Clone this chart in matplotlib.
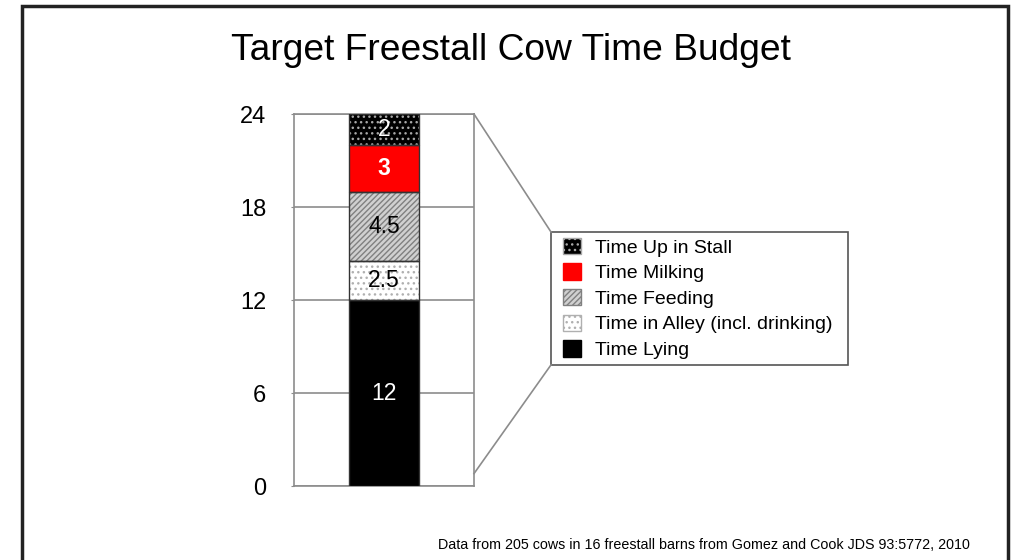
import numpy as np
import matplotlib.pyplot as plt
from matplotlib.patches import Patch, Rectangle
from matplotlib.lines import Line2D

plt.rcParams['font.family'] = ['Liberation Sans', 'DejaVu Sans']

# dados (horas por dia)
categorias = ['Time Lying', 'Time in Alley (incl. drinking)', 'Time Feeding',
              'Time Milking', 'Time Up in Stall']
horas = [12, 2.5, 4.5, 3, 2]
rotulos = ['12', '2.5', '4.5', '3', '2']
yticks = [0, 6, 12, 18, 24]

titulo = 'Target Freestall Cow Time Budget'
fonte = 'Data from 205 cows in 16 freestall barns from Gomez and Cook JDS 93:5772, 2010'

# estilos de cada segmento
cores = ['black', 'white', '#d0d0d0', '#ff0000', 'black']
hachuras = [None, '...', '//////', None, '...']
cor_hachura = ['black', '#b0b0b0', '#808080', '#ff0000', '#a8a8a8']
cor_texto = ['white', 'black', 'black', 'white', 'white']
peso_texto = ['normal', 'normal', 'normal', 'bold', 'normal']

cinza = '#8c8c8c'

fig = plt.figure(figsize=(10.18, 5.6), dpi=100)
ax = fig.add_axes([0.2888, 0.1321, 0.1768, 0.6643])

base = np.concatenate([[0], np.cumsum(horas)[:-1]])
for i in range(len(horas)):
    ax.bar(0.5, horas[i], 0.394, bottom=base[i], color=cores[i],
           edgecolor=cor_hachura[i], hatch=hachuras[i], linewidth=0, zorder=3)
    ax.bar(0.5, horas[i], 0.394, bottom=base[i], fill=False,
           edgecolor='#333333', linewidth=1, zorder=4)
    ax.text(0.5, base[i] + horas[i] / 2, rotulos[i], ha='center', va='center',
            color=cor_texto[i], fontsize=16.5, fontweight=peso_texto[i], zorder=5)

ax.set_xlim(0, 1)
ax.set_ylim(0, 24)
ax.set_yticks(yticks)
ax.set_xticks([])
ax.yaxis.grid(True, color=cinza, linewidth=1.2, zorder=0)
ax.set_axisbelow(True)
for s in ax.spines.values():
    s.set_color(cinza)
    s.set_linewidth(1.2)
ax.tick_params(axis='y', length=2, pad=18, labelsize=17, color=cinza)

fig.text(0.502, 0.893, titulo, ha='center', va='baseline', fontsize=26.7)
fig.text(0.953, 0.019, fonte, ha='right', va='baseline', fontsize=10.3)

# legenda (ordem invertida), moldura desenhada à parte
handles = [Patch(facecolor=cores[i], edgecolor=cor_hachura[i], hatch=hachuras[i])
           for i in range(len(horas))][::-1]
leg = fig.legend(handles, categorias[::-1], loc='upper left',
                 bbox_to_anchor=(557 / 1018, 1 - 232 / 560), fontsize=14,
                 frameon=False, borderpad=0.3, handlelength=0.95,
                 handleheight=0.93, handletextpad=0.72, labelspacing=0.34,
                 borderaxespad=0)

fig.canvas.draw()
inv = fig.transFigure.inverted()
bb = leg.get_window_extent()
x0, y0 = inv.transform((bb.x0 - 6, bb.y0))
x1, y1 = inv.transform((bb.x1 + 9, bb.y1))
fig.add_artist(Rectangle((x0, y0), x1 - x0, y1 - y0, transform=fig.transFigure,
                         fill=False, edgecolor='#555555', linewidth=1.2))

# linhas ligando o eixo à legenda
ax_topo = inv.transform(ax.transAxes.transform((1, 1)))
ax_base = inv.transform(ax.transData.transform((1, 0.8)))
fig.add_artist(Line2D([ax_topo[0], x0], [ax_topo[1], y1],
                      color=cinza, linewidth=1.2, transform=fig.transFigure))
fig.add_artist(Line2D([ax_base[0], x0], [ax_base[1], y0],
                      color=cinza, linewidth=1.2, transform=fig.transFigure))

# moldura do slide
fig.add_artist(Rectangle((22 / 1018, -0.1), (1008 - 22) / 1018, 1.1 - 6 / 560,
                         transform=fig.transFigure, fill=False,
                         edgecolor='#222222', linewidth=2.5))

fig.savefig('out.png', dpi=100)
